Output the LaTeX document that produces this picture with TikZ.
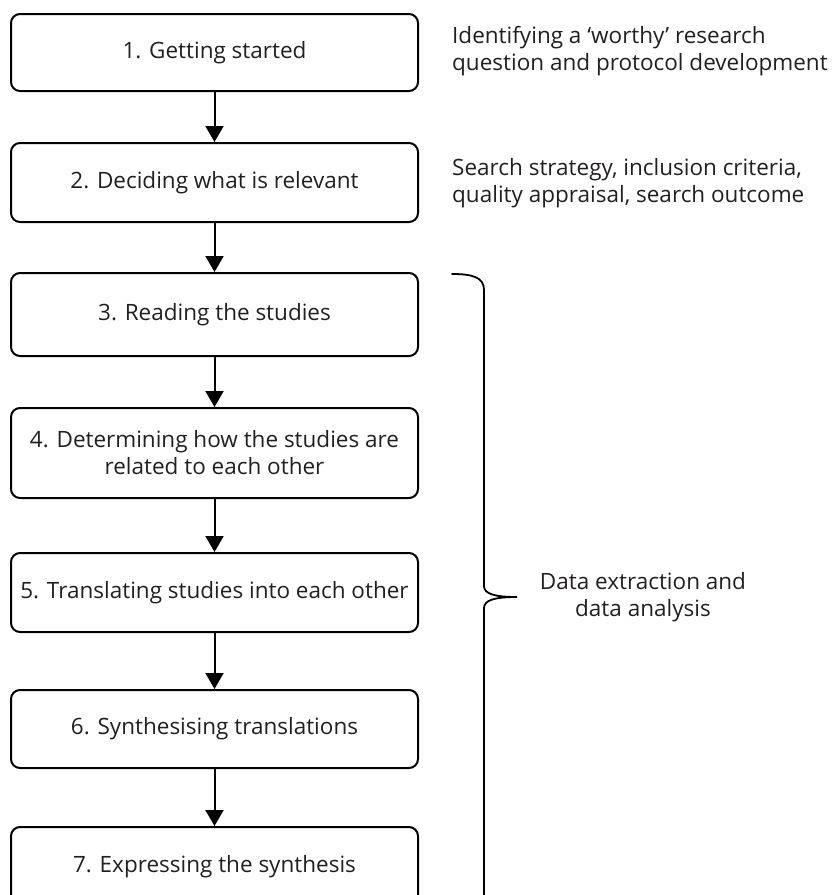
\documentclass[tikz,border=0pt]{standalone}
\usepackage{fontspec}
\setmainfont{Open Sans}
\usetikzlibrary{arrows.meta}
\definecolor{ink}{HTML}{231F20}
\tikzset{
  stage/.style={draw=black, line width=2pt, rounded corners=9pt,
    minimum width=407pt, inner sep=0pt, align=center,
    font=\fontsize{22.5}{27}\selectfont, text=ink},
  note/.style={anchor=west, inner sep=0pt, align=left,
    font=\fontsize{22.5}{27}\selectfont, text=ink},
  flow/.style={line width=2pt, -{Triangle[width=18pt,length=16pt]}},
}
\begin{document}
\begin{tikzpicture}[x=1pt,y=-1pt]
\clip (0,0) rectangle (836,895);

% process stages
\node[stage, minimum height=77pt] (s1) at (214.5,52.5) {1. Getting started};
\node[stage, minimum height=79pt] (s2) at (214.5,182.5) {2. Deciding what is relevant};
\node[stage, minimum height=83pt] (s3) at (214.5,314.5) {3. Reading the studies};
\node[stage, minimum height=90pt] (s4) at (214.5,453) {4. Determining how the studies are\\related to each other};
\node[stage, minimum height=79pt] (s5) at (214.5,592.5) {5. Translating studies into each other};
\node[stage, minimum height=78pt] (s6) at (214.5,729) {6. Synthesising translations};
\node[stage, minimum height=80pt] (s7) at (214.5,867) {7. Expressing the synthesis};

% arrows between stages
\draw[flow] (s1) -- (s2);
\draw[flow] (s2) -- (s3);
\draw[flow] (s3) -- (s4);
\draw[flow] (s4) -- (s5);
\draw[flow] (s5) -- (s6);
\draw[flow] (s6) -- (s7);

% side notes
\node[note] (n1) at (452,51) {Identifying a ‘worthy’ research\\question and protocol development};
\node[note] (n2) at (452,183.5) {Search strategy, inclusion criteria,\\quality appraisal, search outcome};

% curly brace grouping stages 3 to 7
\draw[line width=1.8pt, line cap=round]
  (452,274) .. controls (472,274) and (484,277) .. (484,290)
  -- (484,586) .. controls (484,594) and (495,597) .. (517,597)
  .. controls (495,597) and (484,600) .. (484,608)
  -- (484,904) .. controls (484,917) and (472,920) .. (452,920);
\coordinate (tip) at (517,597);
\node[align=center, inner sep=0pt, font=\fontsize{22.5}{27}\selectfont, text=ink]
  (grp) at (643,597) {Data extraction and\\data analysis};
\end{tikzpicture}
\end{document}
